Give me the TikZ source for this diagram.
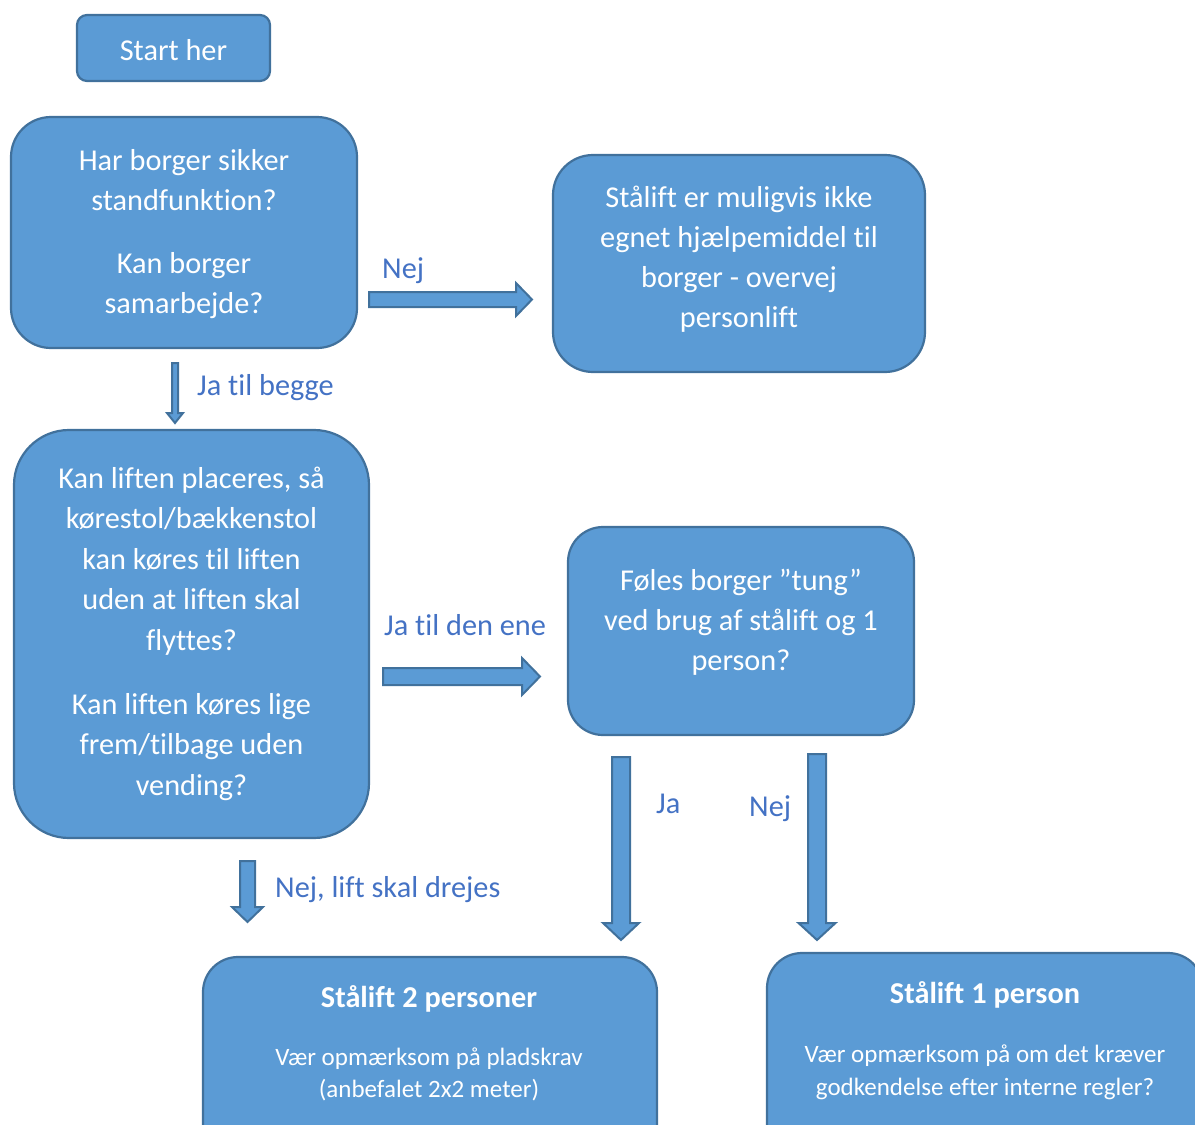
\documentclass[tikz,border=0pt]{standalone}
\usepackage{fontspec}
\setmainfont[Ligatures={NoCommon}]{Carlito}
\usetikzlibrary{calc}
\definecolor{boxfill}{HTML}{5B9BD5}
\definecolor{boxline}{HTML}{41719C}
\definecolor{labelblue}{HTML}{4472C4}
\tikzset{
  flowbox/.style={draw=boxline, fill=boxfill, line width=2.2pt, inner sep=0pt, outer sep=0pt},
  boxtext/.style={text=white, align=center, font=\fontsize{30.3}{40}\selectfont, inner sep=0pt},
  subtext/.style={text=white, align=center, inner sep=0pt},
  titletext/.style={text=white, font=\fontsize{30.3}{36}\selectfont\bfseries, inner sep=0pt, anchor=base},
  edgelabel/.style={text=labelblue, font=\fontsize{30.3}{36}\selectfont, inner sep=0pt, anchor=base west},
  blockarrow/.style={draw=boxline, fill=boxfill, line width=2pt, line join=miter},
}
\newcommand{\harrowblock}[5]{%
  \draw[blockarrow] let \p1=(#1), \p2=(#2) in
  (\x1,\y1+#3) -- (\x2-#5,\y1+#3) -- (\x2-#5,\y1+#4) -- (\x2,\y1) --
  (\x2-#5,\y1-#4) -- (\x2-#5,\y1-#3) -- (\x1,\y1-#3) -- cycle;}
\newcommand{\varrowblock}[5]{%
  \draw[blockarrow] let \p1=(#1), \p2=(#2) in
  (\x1-#3,\y1) -- (\x1-#3,\y2+#5) -- (\x1-#4,\y2+#5) -- (\x1,\y2) --
  (\x1+#4,\y2+#5) -- (\x1+#3,\y2+#5) -- (\x1+#3,\y1) -- cycle;}
\begin{document}
\begin{tikzpicture}[x=1pt,y=-1pt]
\useasboundingbox (0,0) rectangle (1195,1125);
\clip (0,0) rectangle (1195,1125);

% boxes
\node[flowbox, rounded corners=10pt, minimum width=193pt, minimum height=66pt] (start) at (173.5,48) {};
\node[boxtext, anchor=base] (startt) at (173.5,60) {Start her};

\node[flowbox, rounded corners=40pt, minimum width=346pt, minimum height=231pt] (q1) at (184,232.5) {};
\node[boxtext] (q1t) at (184,233.5) {\strut Har borger sikker\\ standfunktion?\\[23pt] Kan borger\\ samarbejde?\strut};

\node[flowbox, rounded corners=40pt, minimum width=372pt, minimum height=217pt] (r1) at (739,263.5) {};
\node[boxtext] (r1t) at (739,259.5) {\strut Stålift er muligvis ikke\\ egnet hjælpemiddel til\\ borger - overvej\\ personlift\strut};

\node[flowbox, rounded corners=55pt, minimum width=355pt, minimum height=408pt] (q2) at (191.5,634) {};
\node[boxtext, font=\fontsize{30.3}{40.5}\selectfont] (q2t) at (191.5,633.4) {\strut Kan liften placeres, så\\ kørestol/bækkenstol\\ kan køres til liften\\ uden at liften skal\\ flyttes?\\[23.5pt] Kan liften køres lige\\ frem/tilbage uden\\ vending?\strut};

\node[flowbox, rounded corners=35pt, minimum width=346pt, minimum height=208pt] (f1) at (741,631) {};
\node[boxtext] (f1t) at (741,622) {\strut Føles borger ”tung”\\ ved brug af stålift og 1\\ person?\strut};

\node[flowbox, rounded corners=35pt, minimum width=454pt, minimum height=203pt] (s2) at (430,1058.5) {};
\node[titletext] (s2title) at (429,1007) {Stålift 2 personer};
\node[subtext, font=\fontsize{25}{32}\selectfont] (s2t) at (429,1074.6) {\strut Vær opmærksom på pladskrav\\ (anbefalet 2x2 meter)\strut};

\node[flowbox, rounded corners=35pt, minimum width=436pt, minimum height=207pt] (s1) at (985,1056.5) {};
\node[titletext] (s1title) at (985,1003) {Stålift 1 person};
\node[subtext, font=\fontsize{25}{33}\selectfont] (s1t) at (985,1071.9) {\strut Vær opmærksom på om det kræver\\ godkendelse efter interne regler?\strut};

% arrow end points
\coordinate (a1s) at (369,299.5);  \coordinate (a1t) at (532,299.5);
\coordinate (a2s) at (175,363);    \coordinate (a2t) at (175,423);
\coordinate (a3s) at (383,676.5);  \coordinate (a3t) at (540,676.5);
\coordinate (a4s) at (247.5,861);  \coordinate (a4t) at (247.5,922);
\coordinate (a5s) at (621,757);    \coordinate (a5t) at (621,940);
\coordinate (a6s) at (817,754);    \coordinate (a6t) at (817,940);

\harrowblock{a1s}{a1t}{7.5pt}{16.5pt}{16pt}
\varrowblock{a2s}{a2t}{3pt}{8pt}{10pt}
\harrowblock{a3s}{a3t}{8.5pt}{18.5pt}{18pt}
\varrowblock{a4s}{a4t}{7.5pt}{15.5pt}{15pt}
\varrowblock{a5s}{a5t}{9pt}{18pt}{17pt}
\varrowblock{a6s}{a6t}{9pt}{18.5pt}{17pt}

% labels
\node[edgelabel] (l1) at (382,278) {Nej};
\node[edgelabel] (l2) at (197,395) {Ja til begge};
\node[edgelabel] (l3) at (384,635) {Ja til den ene};
\node[edgelabel] (l4) at (275,897) {Nej, lift skal drejes};
\node[edgelabel] (l5) at (656,813) {Ja};
\node[edgelabel] (l6) at (749,816) {Nej};
\end{tikzpicture}
\end{document}
